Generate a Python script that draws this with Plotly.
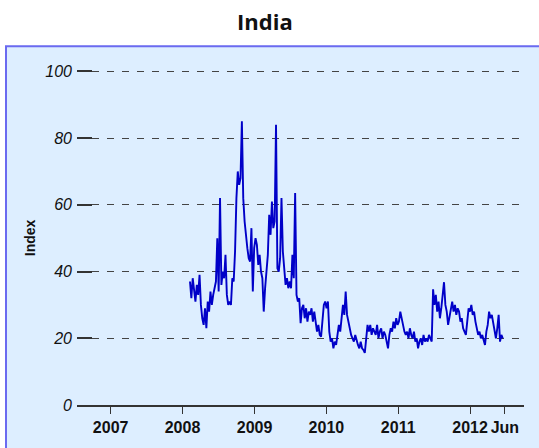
import pandas as pd
import plotly.graph_objects as go

# Weekly India index readings, Feb 2008 - Jun 2012 (grouped by month)
india_index = [
    # 2008
    37, 32, 38, 34,
    31, 36, 33, 39, 30,
    26, 24, 29, 23,
    31, 28, 34, 30, 33,
    35, 37, 50, 34,
    62, 36, 40, 38, 45,
    33, 30, 31, 30,
    38, 37, 46, 62,
    70, 66, 68, 85, 62,
    55, 50, 47, 44,
    43, 53, 34, 47, 50,
    # 2009
    48, 42, 45, 40,
    38, 28, 35, 40,
    45, 57, 51, 61, 53,
    55, 84, 41, 40,
    44, 62, 46, 40,
    36, 38, 35, 37, 35,
    45, 38, 63.5, 33,
    31, 32, 24.5, 29,
    30, 26, 29, 25, 28,
    27, 29, 25, 28,
    25, 22, 24, 21,
    20.5, 26, 30, 31, 29,
    # 2010
    31, 22, 19, 20,
    17, 19, 18, 21,
    24, 22, 26, 30, 27,
    34, 27, 25, 22,
    21, 20, 19, 21,
    19, 18, 17, 19, 17,
    16.5, 15.6, 19, 24,
    22, 24, 21, 23, 22,
    21, 24, 20, 22,
    23, 20, 22, 21,
    19, 17, 21, 23, 22,
    25, 23, 26, 24,
    # 2011
    25, 28, 26, 23, 22,
    21, 22, 20, 23,
    21, 20, 22, 19,
    20, 17, 19, 20, 18,
    21, 19, 20, 19,
    21, 20, 19, 34.7,
    30, 33, 28, 31, 26,
    29, 33, 36.8, 30,
    28, 24, 26, 29,
    31, 28, 30, 27, 29,
    28, 25, 26, 23,
    22, 21, 25, 29, 28,
    # 2012
    30, 27, 28, 25,
    23, 21, 22, 20, 21,
    19, 18, 22, 24,
    28, 26, 27, 25,
    22, 20, 23, 27,
    19, 21, 20,
]
series_start = "2008-02-08"
series_end = "2012-06-15"

x_tick_dates = ["2007-01-01", "2008-01-01", "2009-01-01", "2010-01-01",
                "2011-01-01", "2012-01-01", "2012-06-26"]
x_tick_labels = ["2007", "2008", "2009", "2010", "2011", "2012", "Jun"]
y_tick_values = [0, 20, 40, 60, 80, 100]

dates = pd.date_range(series_start, series_end, periods=len(india_index))

W, H = 539, 448
L, R = 77, 524          # plot area, px
T, B = 67.66, 405       # plot area, px
panel_fill = "#DDEEFF"
panel_edge = "#6a6af0"


def px_x(p):
    return (p - L) / (R - L)


def px_y(p):
    return (B - p) / (B - T)


fig = go.Figure()
fig.add_trace(go.Scatter(
    x=dates, y=india_index, mode="lines",
    line=dict(color="#0000C8", width=1.9),
    hoverinfo="x+y", showlegend=False,
))

# light blue panel with left/top edges
fig.add_shape(type="rect", xref="paper", yref="paper",
              x0=px_x(6), x1=px_x(560), y0=px_y(470), y1=px_y(46),
              fillcolor=panel_fill, line=dict(width=0), layer="below")
fig.add_shape(type="path", xref="paper", yref="paper",
              path=f"M {px_x(6)},{px_y(470)} L {px_x(6)},{px_y(46)} L {px_x(560)},{px_y(46)}",
              line=dict(color=panel_edge, width=2), layer="below")

fig.add_annotation(text="<b>India</b>", xref="paper", yref="paper",
                   x=px_x(265), y=px_y(21), showarrow=False,
                   xanchor="center", yanchor="middle",
                   font=dict(family="Open Sans", size=22, color="#111111"))
fig.add_annotation(text="<b>Index</b>", xref="paper", yref="paper",
                   x=px_x(30), y=px_y(238), showarrow=False, textangle=-90,
                   xanchor="center", yanchor="middle",
                   font=dict(family="Liberation Sans", size=14, color="#111111"))

fig.update_layout(
    width=W, height=H,
    margin=dict(l=L, r=W - R, t=T, b=H - B, pad=0),
    paper_bgcolor="white",
    plot_bgcolor=panel_fill,
    xaxis=dict(
        type="date",
        range=["2006-07-14", "2012-10-01"],
        tickvals=x_tick_dates, ticktext=x_tick_labels,
        tickfont=dict(family="Liberation Sans", size=16, color="#111111", weight="bold"),
        ticks="outside", ticklen=7, tickwidth=1.2, tickcolor="#333333",
        showline=True, linecolor="#333333", linewidth=1.5,
        showgrid=False, zeroline=False,
    ),
    yaxis=dict(
        range=[0, 101],
        tickvals=y_tick_values,
        tickfont=dict(family="Liberation Sans", size=16, color="#111111", style="italic"),
        ticks="inside", ticklen=15, tickwidth=1.5, tickcolor="#333333",
        ticklabelstandoff=4,
        showgrid=True, gridcolor="#444444", gridwidth=1.3, griddash="7px,8px",
        showline=False, zeroline=False,
    ),
)

fig.write_html("out.html")
